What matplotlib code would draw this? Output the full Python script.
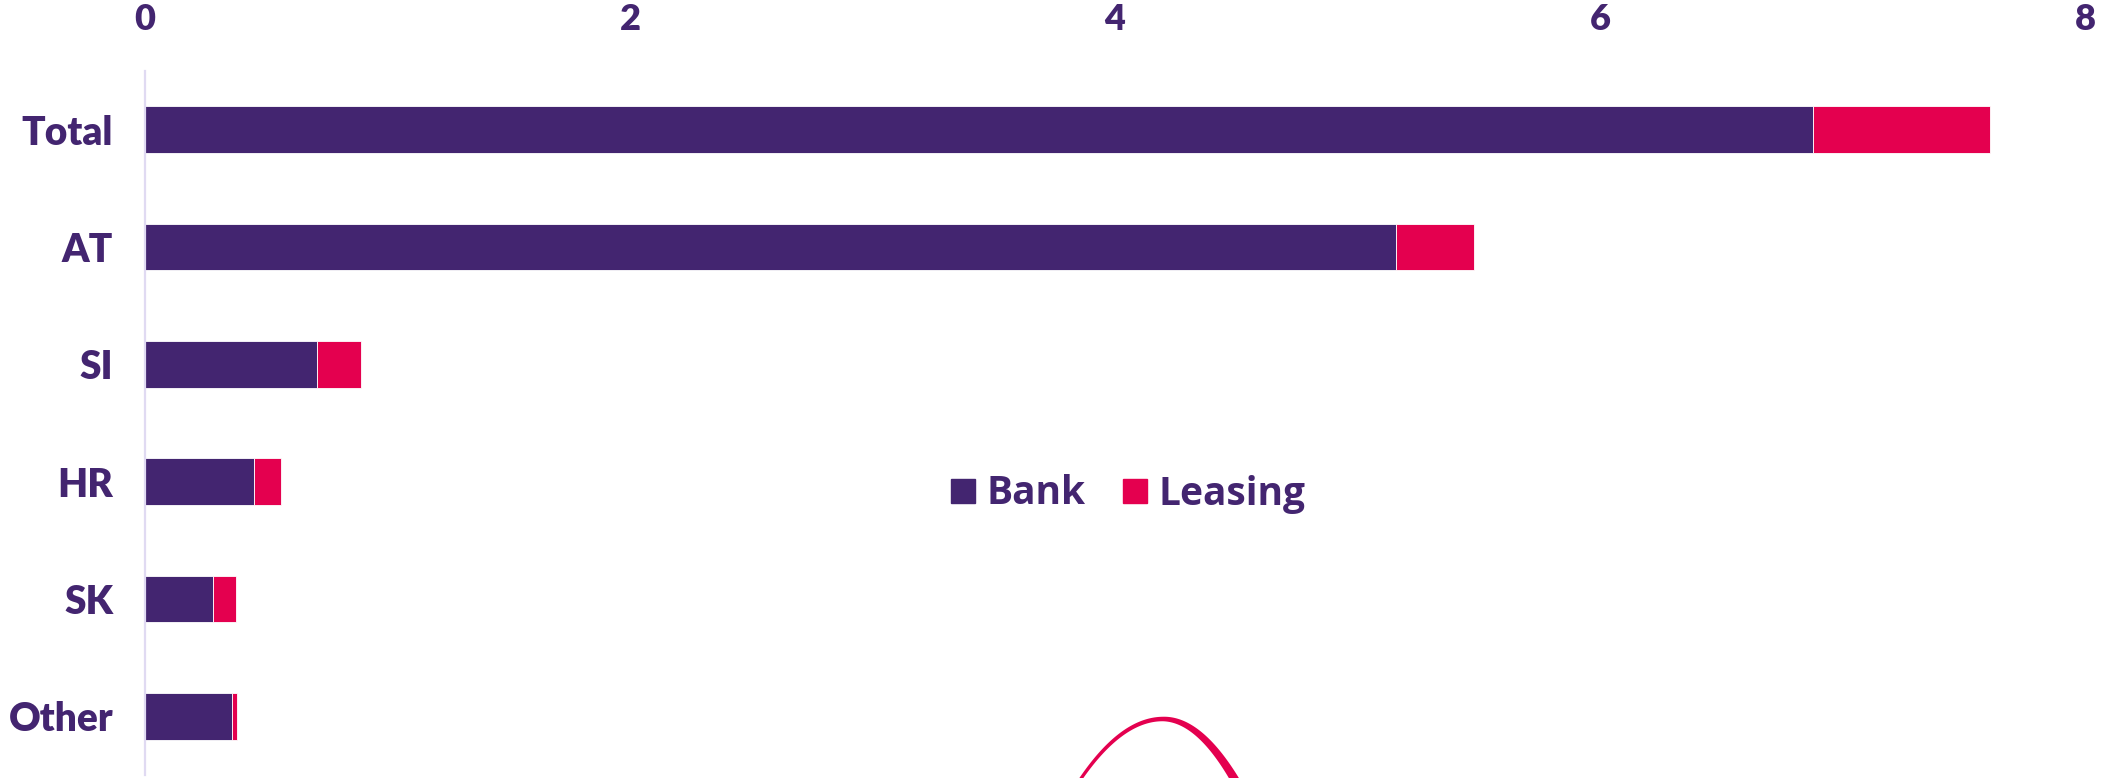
import numpy as np
import matplotlib
matplotlib.use("Agg")
import matplotlib.pyplot as plt
from matplotlib.lines import Line2D
from matplotlib.patches import Polygon
from matplotlib.transforms import IdentityTransform

plt.rcParams['font.family'] = ['Lato', 'DejaVu Sans']

PURPLE = '#432570'
PINK = '#E4004F'
AXIS_LINE = '#E0DAF2'

categories = ['Total', 'AT', 'SI', 'HR', 'SK', 'Other']
bank = [6.88, 5.16, 0.71, 0.45, 0.28, 0.36]
leasing = [0.73, 0.32, 0.18, 0.11, 0.095, 0.02]
series_names = ['Bank', 'Leasing']
x_ticks = [0, 2, 4, 6, 8]

W, H = 2118, 778
fig = plt.figure(figsize=(W / 100, H / 100), dpi=100)
ax = fig.add_axes([145 / W, 3 / H, (2085 - 145) / W, (775 - 71) / H])

y = np.arange(len(categories))
ax.barh(y, bank, height=0.4, color=PURPLE, edgecolor='white', linewidth=0.6)
ax.barh(y, leasing, left=bank, height=0.4, color=PINK, edgecolor='white', linewidth=0.6)

ax.set_ylim(len(categories) - 0.5, -0.5)
ax.set_xlim(0, 8)
ax.xaxis.tick_top()
ax.set_xticks(x_ticks)
ax.set_xticklabels([str(t) for t in x_ticks], fontweight='heavy', fontsize=26, color=PURPLE)
ax.set_yticks(y)
ax.set_yticklabels(categories, fontweight='heavy', fontsize=28, color=PURPLE)
ax.tick_params(axis='x', length=0, pad=25)
ax.tick_params(axis='y', length=0, pad=23)

for s in ['top', 'right', 'bottom']:
    ax.spines[s].set_visible(False)
ax.spines['left'].set_color(AXIS_LINE)
ax.spines['left'].set_linewidth(1.6)

handles = [Line2D([], [], marker='s', ls='none', markersize=17.3, color=c) for c in (PURPLE, PINK)]
fig.legend(handles, series_names, loc='center', bbox_to_anchor=(1128 / W, 1 - 494 / H),
           ncol=2, frameon=False, handlelength=0.62, handletextpad=0.3, columnspacing=0.95,
           prop=dict(family='Open Sans', weight='bold', size=28), labelcolor=PURPLE)

# decorative arc near the bottom
dx = np.linspace(-100, 95, 300)
k = np.where(dx < 0, 61 / 83 ** 2, 61 / 72 ** 2)
cx = 1163 + dx
cy = H - (719 + k * dx ** 2)
thick = np.interp(dx, [-100, 0, 95], [3.0, 4.5, 10.0])
gx = np.gradient(cx)
gy = np.gradient(cy)
n = np.hypot(gx, gy)
nx, ny = -gy / n, gx / n
upper = np.column_stack([cx + nx * thick / 2, cy + ny * thick / 2])
lower = np.column_stack([cx - nx * thick / 2, cy - ny * thick / 2])
poly = Polygon(np.vstack([upper, lower[::-1]]), closed=True, facecolor=PINK, edgecolor='none',
               transform=IdentityTransform())
fig.patches.append(poly)

fig.savefig('out.png', dpi=100)
